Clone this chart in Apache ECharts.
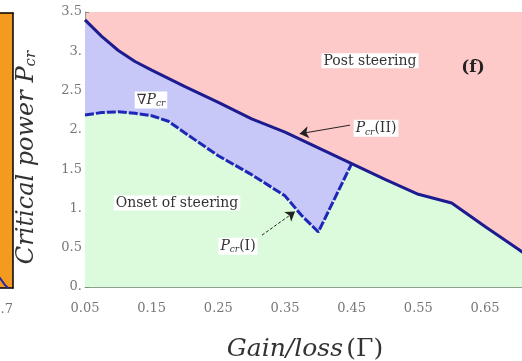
<!DOCTYPE html>
<html>
<head>
<meta charset="utf-8">
<script src="https://cdn.jsdelivr.net/npm/echarts@6/dist/echarts.min.js"></script>
<style>html,body{margin:0;padding:0;background:#fff}#c{width:522px;height:361px}</style>
</head>
<body>
<div id="c"></div>
<script>
// ---- data ----
const gammaUpper = [0.05,0.075,0.10,0.125,0.15,0.20,0.25,0.30,0.35,0.40,0.45,0.50,0.55,0.60,0.65,0.70,0.71];
const pcrII      = [3.40,3.19,3.01,2.87,2.76,2.55,2.35,2.14,1.97,1.77,1.57,1.37,1.18,1.07,0.77,0.48,0.42];
const gammaLower = [0.05,0.075,0.10,0.125,0.15,0.175,0.20,0.25,0.30,0.35,0.375,0.40,0.45];
const pcrI       = [2.19,2.22,2.23,2.21,2.18,2.11,1.96,1.67,1.43,1.16,0.91,0.70,1.57];
const xTicks = [0.05,0.15,0.25,0.35,0.45,0.55,0.65];
const yTicks = [0,0.5,1,1.5,2,2.5,3,3.5];
// neighbouring (cropped) panel fragment
const prevGamma  = [0.615,0.65,0.67];
const prevValues = [0.14,0.04,0.0];
// annotation anchors (data space)
const labelPostSteering = [0.4775, 2.88];
const labelF            = [0.632, 2.79];
const labelGrad         = [0.149, 2.38];
const labelPcrII        = [0.4865, 2.02];
const labelOnset        = [0.188, 1.07];
const labelPcrI         = [0.2795, 0.52];
const arrowII = [[0.4475, 2.06],[0.372, 1.95]];
const arrowI  = [[0.3155, 0.66],[0.365, 0.96]];

// ---- build ----
const upperPts = gammaUpper.map((g,i)=>[g,pcrII[i]]);
const lowerPts = gammaLower.map((g,i)=>[g,pcrI[i]]);
const lastLower = gammaLower[gammaLower.length-1];
const greenPts = lowerPts.concat(upperPts.filter(p=>p[0]>lastLower));
const prevPts = prevGamma.map((g,i)=>[g,prevValues[i]]);

const F = 'DejaVu Serif';
const txt = '#333';
const richBase = {
  n:{fontFamily:F,fontSize:14,color:txt},
  i:{fontFamily:F,fontSize:14,fontStyle:'italic',color:txt},
  s:{fontFamily:F,fontSize:9,fontStyle:'italic',color:txt,padding:[7,0,0,0]}
};
function mp(coord, text, extra){
  return Object.assign({coord, symbol:'rect', symbolSize:1, itemStyle:{color:'rgba(0,0,0,0)'},
    label:{show:true, position:'inside', formatter:text, backgroundColor:'#fff', padding:[1,2,0,2], rich:richBase, fontFamily:F, fontSize:14, color:txt}}, extra||{});
}
const blackLine = {show:true, onZero:false, lineStyle:{color:'#000', width:1.5}};

const chart = echarts.init(document.getElementById('c'), null, {renderer:'canvas'});
chart.setOption({
  animation:false,
  backgroundColor:'#fff',
  grid:[
    {left:85, top:12, width:440, height:275, show:true, backgroundColor:'#fdc9c9', borderWidth:0, outerBoundsMode:'none', containLabel:false},
    {left:0, top:13, width:13, height:275, show:true, backgroundColor:'#f49a1e', borderWidth:0, outerBoundsMode:'none', containLabel:false}
  ],
  xAxis:[
    {type:'value', gridIndex:0, min:0.05, max:0.71,
     axisLine:{show:true, lineStyle:{color:'#8fa08f', width:1}},
     splitLine:{show:false},
     axisTick:{show:true, inside:true, length:4, customValues:xTicks, lineStyle:{color:'#7f907f'}},
     axisLabel:{customValues:xTicks, formatter:v=>v.toFixed(2), fontFamily:F, fontSize:13, color:'#777', margin:15},
     name:'{i|Gain/loss} {n|(Γ)}', nameLocation:'middle', nameGap:50,
     nameTextStyle:{rich:{i:{fontFamily:F,fontSize:25,fontStyle:'italic',color:txt}, n:{fontFamily:F,fontSize:25,color:txt}}}
    },
    {type:'value', gridIndex:1, position:'bottom', min:0.62, max:0.7,
     axisLine:blackLine, splitLine:{show:false}, axisTick:{show:false},
     axisLabel:{customValues:[0.7], formatter:()=> '0.7', fontFamily:F, fontSize:13, color:'#777', margin:15, align:'right'}
    },
    {type:'value', gridIndex:1, position:'top', min:0.62, max:0.7,
     axisLine:blackLine, splitLine:{show:false}, axisTick:{show:false}, axisLabel:{show:false}}
  ],
  yAxis:[
    {type:'value', gridIndex:0, min:0, max:3.5, interval:0.5,
     axisLine:{show:true, lineStyle:{color:'#8fa08f', width:1}},
     splitLine:{show:false},
     axisTick:{show:true, inside:true, length:4, lineStyle:{color:'#7f907f'}},
     axisLabel:{formatter:v=> Number.isInteger(v) ? v+'.' : String(v), fontFamily:F, fontSize:13, color:'#777', margin:3},
     name:'{i|Critical power }{i|P}{s|cr}', nameLocation:'middle', nameRotate:90, nameGap:46,
     nameTextStyle:{padding:[0,16,0,0], rich:{i:{fontFamily:F,fontSize:24,fontStyle:'italic',color:txt}, s:{fontFamily:F,fontSize:15,fontStyle:'italic',color:txt,padding:[10,0,0,0]}}}
    },
    {type:'value', gridIndex:1, position:'right', min:0, max:3.5,
     axisLine:blackLine, splitLine:{show:false}, axisTick:{show:false}, axisLabel:{show:false}}
  ],
  series:[
    {name:'gradient', type:'line', xAxisIndex:0, yAxisIndex:0, data:upperPts, symbol:'none',
     lineStyle:{width:0}, areaStyle:{color:'#c8c8f8', opacity:1}, z:1, silent:true},
    {name:'onset', type:'line', xAxisIndex:0, yAxisIndex:0, data:greenPts, symbol:'none',
     lineStyle:{width:0}, areaStyle:{color:'#dcfadc', opacity:1}, z:2, silent:true},
    {name:'Pcr(II)', type:'line', xAxisIndex:0, yAxisIndex:0, data:upperPts, symbol:'none',
     lineStyle:{width:3, color:'#1c1c90'}, z:4, silent:true,
     markPoint:{silent:true, data:[
       mp(labelPostSteering, 'Post steering'),
       mp(labelF, '(f)', {label:{show:true, position:'inside', formatter:'(f)', fontFamily:F, fontSize:17, fontWeight:'bold', color:'#222'}}),
       mp(labelGrad, '{n|∇}{i|P}{s|cr}'),
       mp(labelPcrII, '{i|P}{s|cr}{n|(II)}'),
       mp(labelOnset, 'Onset of steering'),
       mp(labelPcrI, '{i|P}{s|cr}{n|(I)}')
     ]},
     markLine:{silent:true, symbol:['none','arrow'], symbolSize:9, label:{show:false},
       lineStyle:{color:'#222', width:1, type:'solid'},
       data:[
         [{coord:arrowII[0]},{coord:arrowII[1]}],
         [{coord:arrowI[0], lineStyle:{type:[3,2]}},{coord:arrowI[1]}]
       ]}
    },
    {name:'Pcr(I)', type:'line', xAxisIndex:0, yAxisIndex:0, data:lowerPts, symbol:'none',
     lineStyle:{width:3, color:'#1e28b8', type:[9,2]}, z:3, silent:true},
    {name:'prev', type:'line', xAxisIndex:1, yAxisIndex:1, data:prevPts, symbol:'none',
     lineStyle:{width:2, color:'#2a2aa0'}, silent:true}
  ]
});
</script>
</body>
</html>
